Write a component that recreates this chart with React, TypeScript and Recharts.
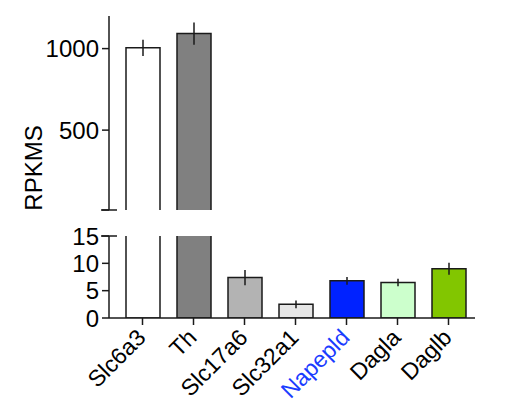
import React from 'react';
import { BarChart, Bar, XAxis, YAxis, ErrorBar, Cell } from 'recharts';

const genes = ['Slc6a3', 'Th', 'Slc17a6', 'Slc32a1', 'Napepld', 'Dagla', 'Daglb'];
const rpkms = [1005, 1092, 7.4, 2.5, 6.8, 6.5, 9.0];
const sem = [50, 68, 1.4, 0.7, 0.7, 0.7, 1.1];
const barColors = ['#ffffff', '#808080', '#b3b3b3', '#e6e6e6', '#0022ff', '#ccffcc', '#82c600'];
const labelColors = ['#000', '#000', '#000', '#000', '#1a3cff', '#000', '#000'];

const topTicks = [10, 500, 1000];
const bottomTicks = [0, 5, 10, 15];
const topDomain = [10, 1200];
const bottomDomain = [0, 15];

const FONT = '"Liberation Sans", Arial, sans-serif';
const INK = '#1a1a1a';
const TICK_SIZE = 7;
const TICK_MARGIN = 3;
const C45 = Math.SQRT1_2;

const data = genes.map((gene, i) => ({ gene, value: rpkms[i], err: sem[i] }));
// the upper segment only shows the bars that reach it
const topData = data.map((d) => (d.value > topDomain[0] ? d : { gene: d.gene, value: null, err: null }));

function YTick(props: any) {
  const { x, y, payload, breakAt } = props;
  const axisX = x + TICK_SIZE + TICK_MARGIN;
  const isBreak = payload.value === breakAt;
  const hideLabel = isBreak && breakAt === topDomain[0];
  return (
    <g>
      {isBreak && <line x1={axisX - 8} x2={axisX + 8} y1={y} y2={y} stroke={INK} strokeWidth={1.5} />}
      {!hideLabel && (
        <text x={x} y={y} dy="0.36em" textAnchor="end" fontSize={24} fontFamily={FONT} fill="#000">
          {payload.value}
        </text>
      )}
    </g>
  );
}

// slanted gene names, -45deg written as a matrix
function XTick(props: any) {
  const { x, y, payload, index } = props;
  const ax = Math.round(Number(x) + 4);
  const ay = Math.round(Number(y) + 12);
  return (
    <g transform={`matrix(${C45} ${-C45} ${C45} ${C45} ${ax} ${ay})`}>
      <text x={0} y={0} textAnchor="end" fontSize={23} fontFamily={FONT} fill={labelColors[index] || '#000'}>
        {payload.value}
      </text>
    </g>
  );
}

// open-bottom bar for the upper segment
function TopBarShape(props: any) {
  const { x, y, width, height, fill } = props;
  if (!height || height <= 0) return null;
  return (
    <g>
      <rect x={x} y={y} width={width} height={height} fill={fill} />
      <path
        d={`M${x},${y + height} L${x},${y} L${x + width},${y} L${x + width},${y + height}`}
        fill="none"
        stroke={INK}
        strokeWidth={1.5}
      />
    </g>
  );
}

const margin = { left: 49, right: 35 };

export default function App() {
  return (
    <div style={{ position: 'absolute', left: 0, top: 0, width: 510, height: 405, background: '#fff' }}>
      <div style={{ position: 'absolute', left: 0, top: 0 }}>
        <BarChart width={510} height={230} data={topData} margin={{ top: 16, bottom: 20, ...margin }} barSize={34}>
          <XAxis dataKey="gene" hide padding={{ left: 8, right: 1 }} />
          <YAxis
            width={60}
            domain={topDomain}
            allowDataOverflow
            ticks={topTicks}
            interval={0}
            tickSize={TICK_SIZE}
            tickMargin={TICK_MARGIN}
            axisLine={{ stroke: INK, strokeWidth: 1.5 }}
            tickLine={{ stroke: INK, strokeWidth: 1.5 }}
            tick={<YTick breakAt={topDomain[0]} />}
          />
          <Bar dataKey="value" isAnimationActive={false} shape={<TopBarShape />}>
            {topData.map((d, i) => (
              <Cell key={d.gene} fill={barColors[i]} />
            ))}
            <ErrorBar dataKey="err" width={0} stroke={INK} strokeWidth={1.5} />
          </Bar>
        </BarChart>
      </div>
      <div style={{ position: 'absolute', left: 0, top: 220 }}>
        <BarChart width={510} height={185} data={data} margin={{ top: 16, bottom: 0, ...margin }} barSize={34}>
          <XAxis
            dataKey="gene"
            height={87}
            padding={{ left: 8, right: 1 }}
            interval={0}
            minTickGap={-50}
            tickSize={TICK_SIZE}
            tickMargin={2}
            axisLine={{ stroke: INK, strokeWidth: 1.5 }}
            tickLine={{ stroke: INK, strokeWidth: 1.5 }}
            tick={<XTick />}
          />
          <YAxis
            width={60}
            domain={bottomDomain}
            allowDataOverflow
            ticks={bottomTicks}
            interval={0}
            tickSize={TICK_SIZE}
            tickMargin={TICK_MARGIN}
            axisLine={{ stroke: INK, strokeWidth: 1.5 }}
            tickLine={{ stroke: INK, strokeWidth: 1.5 }}
            tick={<YTick breakAt={bottomDomain[1]} />}
          />
          <Bar dataKey="value" isAnimationActive={false} stroke={INK} strokeWidth={1.5}>
            {data.map((d, i) => (
              <Cell key={d.gene} fill={barColors[i]} />
            ))}
            <ErrorBar dataKey="err" width={0} stroke={INK} strokeWidth={1.5} />
          </Bar>
        </BarChart>
      </div>
      <div
        style={{
          position: 'absolute',
          left: 34,
          top: 168,
          transform: 'translate(-50%, -50%) rotate(-90deg)',
          fontFamily: FONT,
          fontSize: 24,
          whiteSpace: 'nowrap',
          color: '#000',
        }}
      >
        RPKMS
      </div>
    </div>
  );
}
